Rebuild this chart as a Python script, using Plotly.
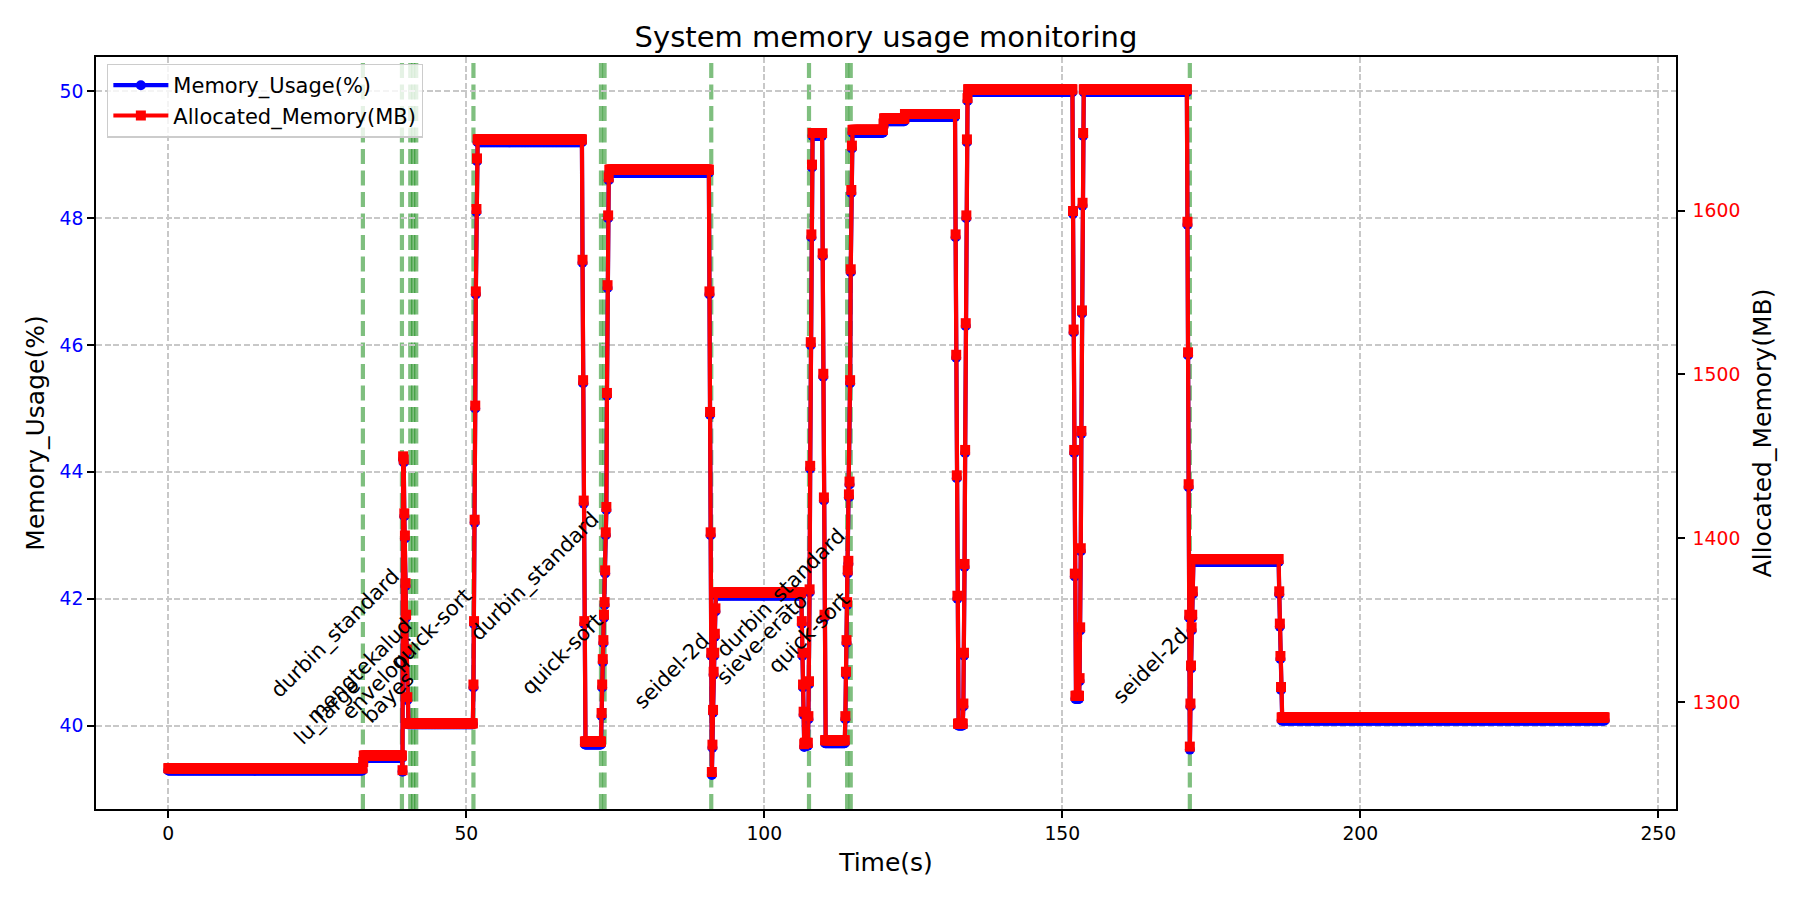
import numpy as np
import plotly.graph_objects as go

# ---------------- data ----------------
SAMPLE_PERIOD = 0.1  # seconds between samples

# Steady runs of the sampled series (run-length encoded):
plateau_start = [0.0, 32.8, 40.2, 51.9, 69.9, 74.0, 91.9, 106.8, 108.1, 110.2,
                 114.8, 120.1, 123.6, 132.5, 134.2, 152.2, 153.6, 172.0, 186.8]
plateau_end = [32.6, 39.2, 51.1, 69.4, 72.6, 90.7, 106.2, 107.3, 109.7, 113.5,
               119.9, 123.5, 132.0, 133.3, 151.7, 152.8, 170.9, 186.3, 241.0]
plateau_pct = [39.29, 39.49, 40.02, 49.20, 39.70, 48.72, 42.05, 39.68, 49.30, 39.72,
               49.35, 49.53, 49.60, 40.00, 49.99, 40.42, 49.99, 42.58, 40.08]
plateau_mb = [1259.6, 1267.3, 1287.0, 1643.5, 1275.9, 1625.0, 1366.8, 1275.1, 1647.4, 1276.7,
              1649.3, 1656.3, 1659.0, 1286.8, 1674.1, 1303.8, 1674.1, 1387.3, 1290.6]

# Individual samples during the transitions between runs
trans_time = [32.7,
              39.3, 39.4, 39.5, 39.6, 39.7, 39.8, 39.9, 40.0, 40.1,
              51.2, 51.3, 51.4, 51.5, 51.6, 51.7, 51.8,
              69.5, 69.6, 69.7, 69.8,
              72.7, 72.8, 72.9, 73.0, 73.1, 73.2, 73.3, 73.4, 73.5, 73.6, 73.7, 73.8, 73.9,
              90.8, 90.9, 91.0, 91.1, 91.2, 91.3, 91.4, 91.5, 91.6, 91.7, 91.8,
              106.3, 106.4, 106.5, 106.6, 106.7,
              107.4, 107.5, 107.6, 107.7, 107.8, 107.9, 108.0,
              109.8, 109.9, 110.0, 110.1,
              113.6, 113.7, 113.8, 113.9, 114.0, 114.1, 114.2, 114.3, 114.4, 114.5, 114.6, 114.7,
              120.0,
              132.1, 132.2, 132.3, 132.4,
              133.4, 133.5, 133.6, 133.7, 133.8, 133.9, 134.0, 134.1,
              151.8, 151.9, 152.0, 152.1,
              152.9, 153.0, 153.1, 153.2, 153.3, 153.4, 153.5,
              171.0, 171.1, 171.2, 171.3, 171.4, 171.5, 171.6, 171.7, 171.8, 171.9,
              186.4, 186.5, 186.6, 186.7]
trans_pct = [39.40,
             39.27, 44.20, 44.15, 43.30, 42.95, 42.20, 41.70, 41.15, 40.40,
             40.60, 41.60, 43.20, 45.00, 46.80, 48.10, 48.90,
             47.30, 45.40, 43.50, 41.60,
             40.15, 40.60, 41.00, 41.30, 41.70, 41.90, 42.40, 43.00, 43.40, 45.20, 46.90, 48.00, 48.60,
             46.80, 44.90, 43.00, 41.10, 39.22, 39.65, 40.20, 40.80, 41.10, 41.40, 41.80,
             41.60, 41.10, 40.60, 40.17, 39.66,
             40.10, 40.65, 42.10, 44.05, 46.00, 47.70, 48.80,
             47.40, 45.50, 43.55, 41.70,
             40.10, 40.80, 41.30, 41.90, 42.40, 42.55, 43.60, 43.80, 45.40, 47.15, 48.40, 49.10,
             49.45,
             47.70, 45.80, 43.90, 42.00,
             40.30, 41.10, 42.50, 44.30, 46.30, 48.00, 49.20, 49.85,
             48.07, 46.20, 44.30, 42.35,
             40.70, 41.50, 42.75, 44.60, 46.50, 48.20, 49.30,
             47.90, 45.84, 43.76, 41.70, 39.62, 40.30, 40.90, 41.50, 41.70, 42.07,
             42.07, 41.56, 41.05, 40.56]
trans_mb = [1263.4,
            1258.4, 1450.0, 1448.1, 1415.2, 1401.7, 1372.6, 1353.3, 1332.0, 1303.0,
            1310.7, 1349.4, 1411.3, 1481.0, 1550.7, 1601.0, 1631.9,
            1570.0, 1496.5, 1423.0, 1349.4,
            1293.3, 1310.7, 1326.2, 1337.8, 1353.3, 1361.0, 1380.4, 1403.6, 1419.1, 1488.7, 1554.5, 1597.1, 1620.3,
            1550.7, 1477.1, 1403.6, 1330.1, 1257.3, 1274.0, 1295.2, 1318.5, 1330.1, 1341.7, 1357.2,
            1349.4, 1330.1, 1310.7, 1294.1, 1274.3,
            1291.4, 1312.7, 1368.8, 1444.2, 1519.7, 1585.5, 1628.1,
            1573.9, 1500.4, 1424.9, 1353.3,
            1291.4, 1318.5, 1337.8, 1361.0, 1380.4, 1386.2, 1426.8, 1434.6, 1496.5, 1564.2, 1612.6, 1639.7,
            1653.2,
            1585.5, 1512.0, 1438.4, 1364.9,
            1299.1, 1330.1, 1384.3, 1453.9, 1531.3, 1597.1, 1643.5, 1668.7,
            1599.8, 1527.4, 1453.9, 1378.4,
            1314.6, 1345.6, 1393.9, 1465.5, 1539.1, 1604.8, 1647.4,
            1593.2, 1513.5, 1433.0, 1353.3, 1272.8, 1299.1, 1322.3, 1345.6, 1353.3, 1367.6,
            1367.6, 1347.9, 1328.1, 1309.2]

# Benchmark start events (green markers)
event_time = [32.65, 39.2, 40.6, 41.1, 41.6, 51.2, 72.6, 73.2, 91.1, 107.5, 113.9, 114.5, 171.4]
event_name = ["lu_large", "durbin_standard", "envelop", "mengtekalud", "bayes", "quick-sort",
              "durbin_standard", "quick-sort", "seidel-2d", "sieve-erato", "durbin_standard",
              "quick-sort", "seidel-2d"]
event_label_y = [39.72, 40.45, 40.12, 40.06, 40.06, 40.90, 41.36, 40.51, 40.28, 40.67, 41.08, 40.84, 40.36]

x_ticks = [0, 50, 100, 150, 200, 250]
pct_ticks = [40, 42, 44, 46, 48, 50]
mb_ticks = [1300, 1400, 1500, 1600]

# ---------------- expand run-length encoded series ----------------
t_parts, p_parts, m_parts = [np.array(trans_time)], [np.array(trans_pct)], [np.array(trans_mb)]
for s, e, p, m in zip(plateau_start, plateau_end, plateau_pct, plateau_mb):
    n = int(round((e - s) / SAMPLE_PERIOD)) + 1
    t_parts.append(s + SAMPLE_PERIOD * np.arange(n))
    p_parts.append(np.full(n, p))
    m_parts.append(np.full(n, m))
time_s = np.concatenate(t_parts)
order = np.argsort(time_s, kind="stable")
time_s = np.round(time_s[order], 2)
mem_pct = np.concatenate(p_parts)[order]
alloc_mb = np.concatenate(m_parts)[order]

FONT = "DejaVu Sans"
fig = go.Figure()
fig.add_trace(go.Scatter(
    x=time_s, y=mem_pct, mode="lines+markers", name="Memory_Usage(%)",
    line=dict(color="#0000ff", width=4.2),
    marker=dict(symbol="circle", size=10, color="#0000ff"), yaxis="y"))
fig.add_trace(go.Scatter(
    x=time_s, y=alloc_mb, mode="lines+markers", name="Allocated_Memory(MB)",
    line=dict(color="#ff0000", width=4.2),
    marker=dict(symbol="square", size=10, color="#ff0000"), yaxis="y2"))

for t in event_time:
    fig.add_shape(type="line", xref="x", yref="paper", x0=t, x1=t, y0=0, y1=1,
                  line=dict(color="rgba(0,128,0,0.5)", width=4.2, dash="15px,6.5px"),
                  layer="below")

for t, name, ly in zip(event_time, event_name, event_label_y):
    fig.add_annotation(x=t, y=ly, xref="x", yref="y", text=name, textangle=-45,
                       xanchor="right", yanchor="bottom", showarrow=False,
                       xshift=6, yshift=-9,
                       font=dict(family=FONT, size=21, color="black"))

grid = dict(showgrid=True, gridcolor="#c8c8c8", griddash="6px,2.7px", gridwidth=1.5)
axis_common = dict(showline=True, linecolor="black", linewidth=1.7, ticks="outside",
                   ticklen=7, tickwidth=1.7, tickcolor="black", zeroline=False,
                   automargin=False)

fig.update_layout(
    width=1800, height=900,
    margin=dict(l=96, r=124, t=57, b=91),
    paper_bgcolor="white", plot_bgcolor="white",
    font=dict(family=FONT, color="black"),
    title=dict(text="System memory usage monitoring", x=0.5, xref="paper",
               y=1 - 37 / 900, yref="container", xanchor="center", yanchor="middle",
               font=dict(family=FONT, size=29, color="black")),
    xaxis=dict(range=[-12.13, 252.97], tickvals=x_ticks, mirror=True,
               tickfont=dict(family=FONT, size=18.75, color="black"),
               title=dict(text="Time(s)", font=dict(family=FONT, size=25), standoff=10),
               **grid, **axis_common),
    yaxis=dict(range=[38.683, 50.544], tickvals=pct_ticks, mirror=True,
               tickfont=dict(family=FONT, size=18.75, color="#0000ff"),
               title=dict(text="Memory_Usage(%)", font=dict(family=FONT, size=25), standoff=8),
               **grid, **axis_common),
    yaxis2=dict(range=[1234.7, 1693.8], tickvals=mb_ticks, overlaying="y", side="right",
                showgrid=False, ticklabelstandoff=4,
                tickfont=dict(family=FONT, size=18.75, color="#ff0000"),
                title=dict(text="Allocated_Memory(MB)", font=dict(family=FONT, size=25), standoff=14),
                **axis_common),
    legend=dict(x=0.007, y=0.991, xanchor="left", yanchor="top",
                bgcolor="rgba(255,255,255,0.8)", bordercolor="#cccccc", borderwidth=1.3,
                itemwidth=55, tracegroupgap=6,
                font=dict(family=FONT, size=21, color="black")),
    showlegend=True,
)

fig.write_html("out.html", config={"displayModeBar": False},
               post_script="document.body.style.margin='0px';")
